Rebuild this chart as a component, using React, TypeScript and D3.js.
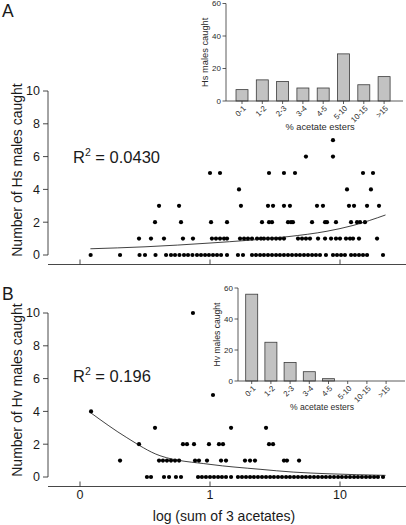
import React from "react";
import * as d3 from "d3";

// ---------- DATA ----------
// x values are log10(sum of 3 acetates); tick "0" sits at -1
const xTickValues = [-1, 0, 1];
const xTickLabels = ["0", "1", "10"];
const yTickValues = [0, 2, 4, 6, 8, 10];

// Hs panel: index = number of males caught, values = log sum of acetates
const hsByCount: number[][] = [
  [-0.918, -0.692, -0.542, -0.5, -0.419, -0.338, -0.3, -0.269, -0.235, -0.2, -0.169, -0.135, -0.1, -0.069, -0.038, -0.008, 0.023, 0.054, 0.085, 0.131, 0.215, 0.254, 0.323, 0.354, 0.385, 0.415, 0.446, 0.477, 0.508, 0.538, 0.569, 0.6, 0.631, 0.662, 0.692, 0.723, 0.754, 0.785, 0.815, 0.846, 0.892, 0.946, 0.977, 1.008, 1.038, 1.085, 1.115, 1.146, 1.177, 1.208, 1.331],
  [-0.546, -0.454, -0.354, -0.208, -0.131, 0.015, 0.046, 0.077, 0.108, 0.131, 0.231, 0.262, 0.292, 0.323, 0.362, 0.392, 0.415, 0.446, 0.477, 0.508, 0.538, 0.569, 0.677, 0.708, 0.738, 0.769, 0.831, 0.885, 0.931, 0.969, 1.0, 1.046, 1.077, 1.1, 1.146, 1.285],
  [-0.423, -0.223, 0.008, 0.131, 0.4, 0.454, 0.477, 0.6, 0.623, 0.638, 0.785, 0.885, 0.9, 0.969, 1.085, 1.131, 1.154, 1.192],
  [-0.392, -0.238, 0.238, 0.446, 0.485, 0.569, 0.615, 0.823, 0.869, 1.069, 1.108, 1.208, 1.3],
  [0.223, 1.054, 1.238],
  [0.0, 0.077, 0.454, 0.569, 0.654, 1.177, 1.254],
  [0.738, 0.946],
  [0.946],
];

// Hv panel
const hvByCount: number[][] = [
  [-0.485, -0.454, -0.354, -0.315, -0.262, -0.223, -0.092, -0.062, -0.031, 0.0, 0.031, 0.062, 0.092, 0.123, 0.162, 0.215, 0.246, 0.277, 0.308, 0.338, 0.369, 0.4, 0.431, 0.462, 0.492, 0.523, 0.554, 0.585, 0.615, 0.646, 0.677, 0.708, 0.738, 0.769, 0.8, 0.831, 0.862, 0.892, 0.923, 0.954, 0.985, 1.015, 1.046, 1.077, 1.108, 1.138, 1.169, 1.2, 1.231, 1.262, 1.292, 1.331],
  [-0.692, -0.392, -0.362, -0.331, -0.3, -0.269, -0.238, -0.115, -0.085, -0.023, 0.085, 0.123, 0.269, 0.308, 0.346, 0.569, 0.592, 0.685],
  [-0.546, -0.208, -0.177, -0.123, -0.008, 0.069, 0.1, 0.454, 0.485],
  [-0.423, 0.162, 0.431],
  [-0.915],
  [0.023],
  [],
  [],
  [],
  [],
  [-0.131],
];

// fitted curves
const hsFitX = [-0.92, -0.5, 0, 0.3, 0.6, 0.9, 1.1, 1.35];
const hsFitY = [0.38, 0.5, 0.73, 0.9, 1.12, 1.45, 1.8, 2.44];
const hvFitX = [-0.915, -0.64, -0.385, 0, 0.385, 0.64, 0.9, 1.35];
const hvFitY = [3.9, 2.4, 1.3, 0.77, 0.47, 0.3, 0.2, 0.1];

const hsR2 = "0.0430";
const hvR2 = "0.196";

// insets
const esterCategories = ["0-1", "1-2", "2-3", "3-4", "4-5", "5-10", "10-15", ">15"];
const hsHist = [7, 13, 12, 8, 8, 29, 10, 15];
const hvHist = [56, 25, 12, 6, 1.5, 0, 0, 0];
const insetTicks = [0, 20, 40, 60];

// ---------- LAYOUT ----------
const W = 406;
const H = 525;
const FONT = "'Liberation Sans', Arial, Helvetica, sans-serif";
const AXIS = "#333";
const TEXT = "#1a1a1a";

const xScale = d3.scaleLinear().domain([-1, 1]).range([80, 340]);
const yA = d3.scaleLinear().domain([0, 10]).range([255, 91]);
const yB = d3.scaleLinear().domain([0, 10]).range([477, 313]);

type PanelProps = {
  y: d3.ScaleLinear<number, number>;
  rows: number[][];
  fitX: number[];
  fitY: number[];
  r2: string;
  r2Y: number;
  title: string;
  titleY: number;
  letter: string;
  letterY: number;
  showXLabels: boolean;
};

function Panel(p: PanelProps) {
  const axisX = 48;
  const y0 = p.y(0);
  const xAxisY = y0 + 9.5;
  const pts = p.rows.flatMap((us, c) => us.map((u) => ({ u, c })));
  const line = d3
    .line<number>()
    .x((_, i) => xScale(p.fitX[i]))
    .y((d) => p.y(d))
    .curve(d3.curveMonotoneX);
  return (
    <g>
      <text x={2} y={p.letterY} fontSize={17.5} fontFamily={FONT} fill={TEXT}>
        {p.letter}
      </text>
      {/* y axis */}
      <line x1={axisX} x2={axisX} y1={p.y(10)} y2={y0} stroke={AXIS} strokeWidth={0.9} />
      {yTickValues.map((t) => (
        <g key={t}>
          <line x1={axisX - 5} x2={axisX} y1={p.y(t)} y2={p.y(t)} stroke={AXIS} strokeWidth={0.9} />
          <text
            x={axisX - 8}
            y={p.y(t)}
            dy="0.35em"
            textAnchor="end"
            fontSize={12.5}
            fontFamily={FONT}
            fill={TEXT}
          >
            {t}
          </text>
        </g>
      ))}
      <text
        transform={`translate(22,${p.titleY}) rotate(-90)`}
        textAnchor="middle"
        fontSize={14}
        fontFamily={FONT}
        fill={TEXT}
      >
        {p.title}
      </text>
      {/* x axis */}
      <line x1={axisX} x2={W} y1={xAxisY} y2={xAxisY} stroke={AXIS} strokeWidth={0.9} />
      {xTickValues.map((t, i) => (
        <g key={t}>
          <line x1={xScale(t)} x2={xScale(t)} y1={xAxisY} y2={xAxisY - 5} stroke={AXIS} strokeWidth={0.9} />
          {p.showXLabels && (
            <text
              x={xScale(t)}
              y={xAxisY + 12}
              textAnchor="middle"
              fontSize={12.5}
              fontFamily={FONT}
              fill={TEXT}
            >
              {xTickLabels[i]}
            </text>
          )}
        </g>
      ))}
      {/* points */}
      {pts.map((d, i) => (
        <circle key={i} cx={xScale(d.u)} cy={p.y(d.c)} r={2.1} fill="#000" />
      ))}
      {/* fit */}
      <path d={line(p.fitY) || ""} fill="none" stroke="#111" strokeWidth={0.8} />
      <text x={73} y={p.r2Y} fontSize={16.5} fontFamily={FONT} fill={TEXT}>
        R
        <tspan fontSize={10.5} dy={-7}>
          2
        </tspan>
        <tspan dy={7}> = {p.r2}</tspan>
      </text>
    </g>
  );
}

type InsetProps = {
  axisX: number;
  axisEnd: number;
  bandRange: [number, number];
  padding: number;
  yRange: [number, number];
  values: number[];
  yLabel: string;
  yLabelX: number;
  xLabelY: number;
  xLabelX: number;
  labelSize: number;
};

function Inset(p: InsetProps) {
  const x = d3
    .scaleBand<string>()
    .domain(esterCategories)
    .range(p.bandRange)
    .paddingInner(p.padding)
    .paddingOuter(p.padding / 2);
  const y = d3.scaleLinear().domain([0, 60]).range(p.yRange);
  const y0 = y(0);
  return (
    <g>
      {p.values.map((v, i) =>
        v > 0 ? (
          <rect
            key={i}
            x={x(esterCategories[i])}
            y={y(v)}
            width={x.bandwidth()}
            height={y0 - y(v)}
            fill="#c2c2c2"
            stroke="#3a3a3a"
            strokeWidth={0.8}
          />
        ) : null
      )}
      <line x1={p.axisX} x2={p.axisX} y1={y(60)} y2={y0} stroke={AXIS} strokeWidth={0.8} />
      <line x1={p.axisX} x2={p.axisEnd} y1={y0} y2={y0} stroke={AXIS} strokeWidth={0.8} />
      {insetTicks.map((t) => (
        <g key={t}>
          <line x1={p.axisX - 3.5} x2={p.axisX} y1={y(t)} y2={y(t)} stroke={AXIS} strokeWidth={0.8} />
          <text
            x={p.axisX - 5}
            y={y(t)}
            dy="0.35em"
            textAnchor="end"
            fontSize={8}
            fontFamily={FONT}
            fill="#2a2a2a"
          >
            {t}
          </text>
        </g>
      ))}
      {esterCategories.map((c) => {
        const cx = (x(c) || 0) + x.bandwidth() / 2;
        return (
          <g key={c}>
            <line x1={cx} x2={cx} y1={y0} y2={y0 + 3} stroke={AXIS} strokeWidth={0.8} />
            <text
              transform={`translate(${cx + 2.5},${y0 + 6}) rotate(-45)`}
              textAnchor="end"
              dy="0.35em"
              fontSize={7.8}
              fontFamily={FONT}
              fill="#2a2a2a"
            >
              {c}
            </text>
          </g>
        );
      })}
      <text
        transform={`translate(${p.yLabelX},${(y(60) + y0) / 2}) rotate(-90)`}
        textAnchor="middle"
        fontSize={p.labelSize}
        fontFamily={FONT}
        fill="#2a2a2a"
      >
        {p.yLabel}
      </text>
      <text
        x={p.xLabelX}
        y={p.xLabelY}
        textAnchor="middle"
        fontSize={p.labelSize}
        fontFamily={FONT}
        fill="#2a2a2a"
      >
        % acetate esters
      </text>
    </g>
  );
}

export default function App() {
  return (
    <svg
      width={W}
      height={H}
      viewBox={`0 0 ${W} ${H}`}
      style={{ position: "absolute", left: 0, top: 0, background: "#fff" }}
    >
      <rect width={W} height={H} fill="#fff" />
      <Panel
        y={yA}
        rows={hsByCount}
        fitX={hsFitX}
        fitY={hsFitY}
        r2={hsR2}
        r2Y={163}
        title="Number of Hs males caught"
        titleY={170}
        letter="A"
        letterY={17}
        showXLabels={false}
      />
      <Panel
        y={yB}
        rows={hvByCount}
        fitX={hvFitX}
        fitY={hvFitY}
        r2={hvR2}
        r2Y={382}
        title="Number of Hv males caught"
        titleY={390}
        letter="B"
        letterY={300}
        showXLabels={true}
      />
      <text
        x={224}
        y={521}
        textAnchor="middle"
        fontSize={14}
        fontFamily={FONT}
        fill={TEXT}
      >
        log (sum of 3 acetates)
      </text>
      <Inset
        axisX={226}
        axisEnd={403}
        bandRange={[231.85, 394.25]}
        padding={0.41}
        yRange={[101, 3.5]}
        values={hsHist}
        yLabel="Hs males caught"
        yLabelX={208}
        xLabelX={320}
        xLabelY={130}
        labelSize={9.3}
      />
      <Inset
        axisX={238}
        axisEnd={405}
        bandRange={[242.1, 395.7]}
        padding={0.375}
        yRange={[381, 288]}
        values={hvHist}
        yLabel="Hv males caught"
        yLabelX={220}
        xLabelX={322}
        xLabelY={410}
        labelSize={8.6}
      />
    </svg>
  );
}
